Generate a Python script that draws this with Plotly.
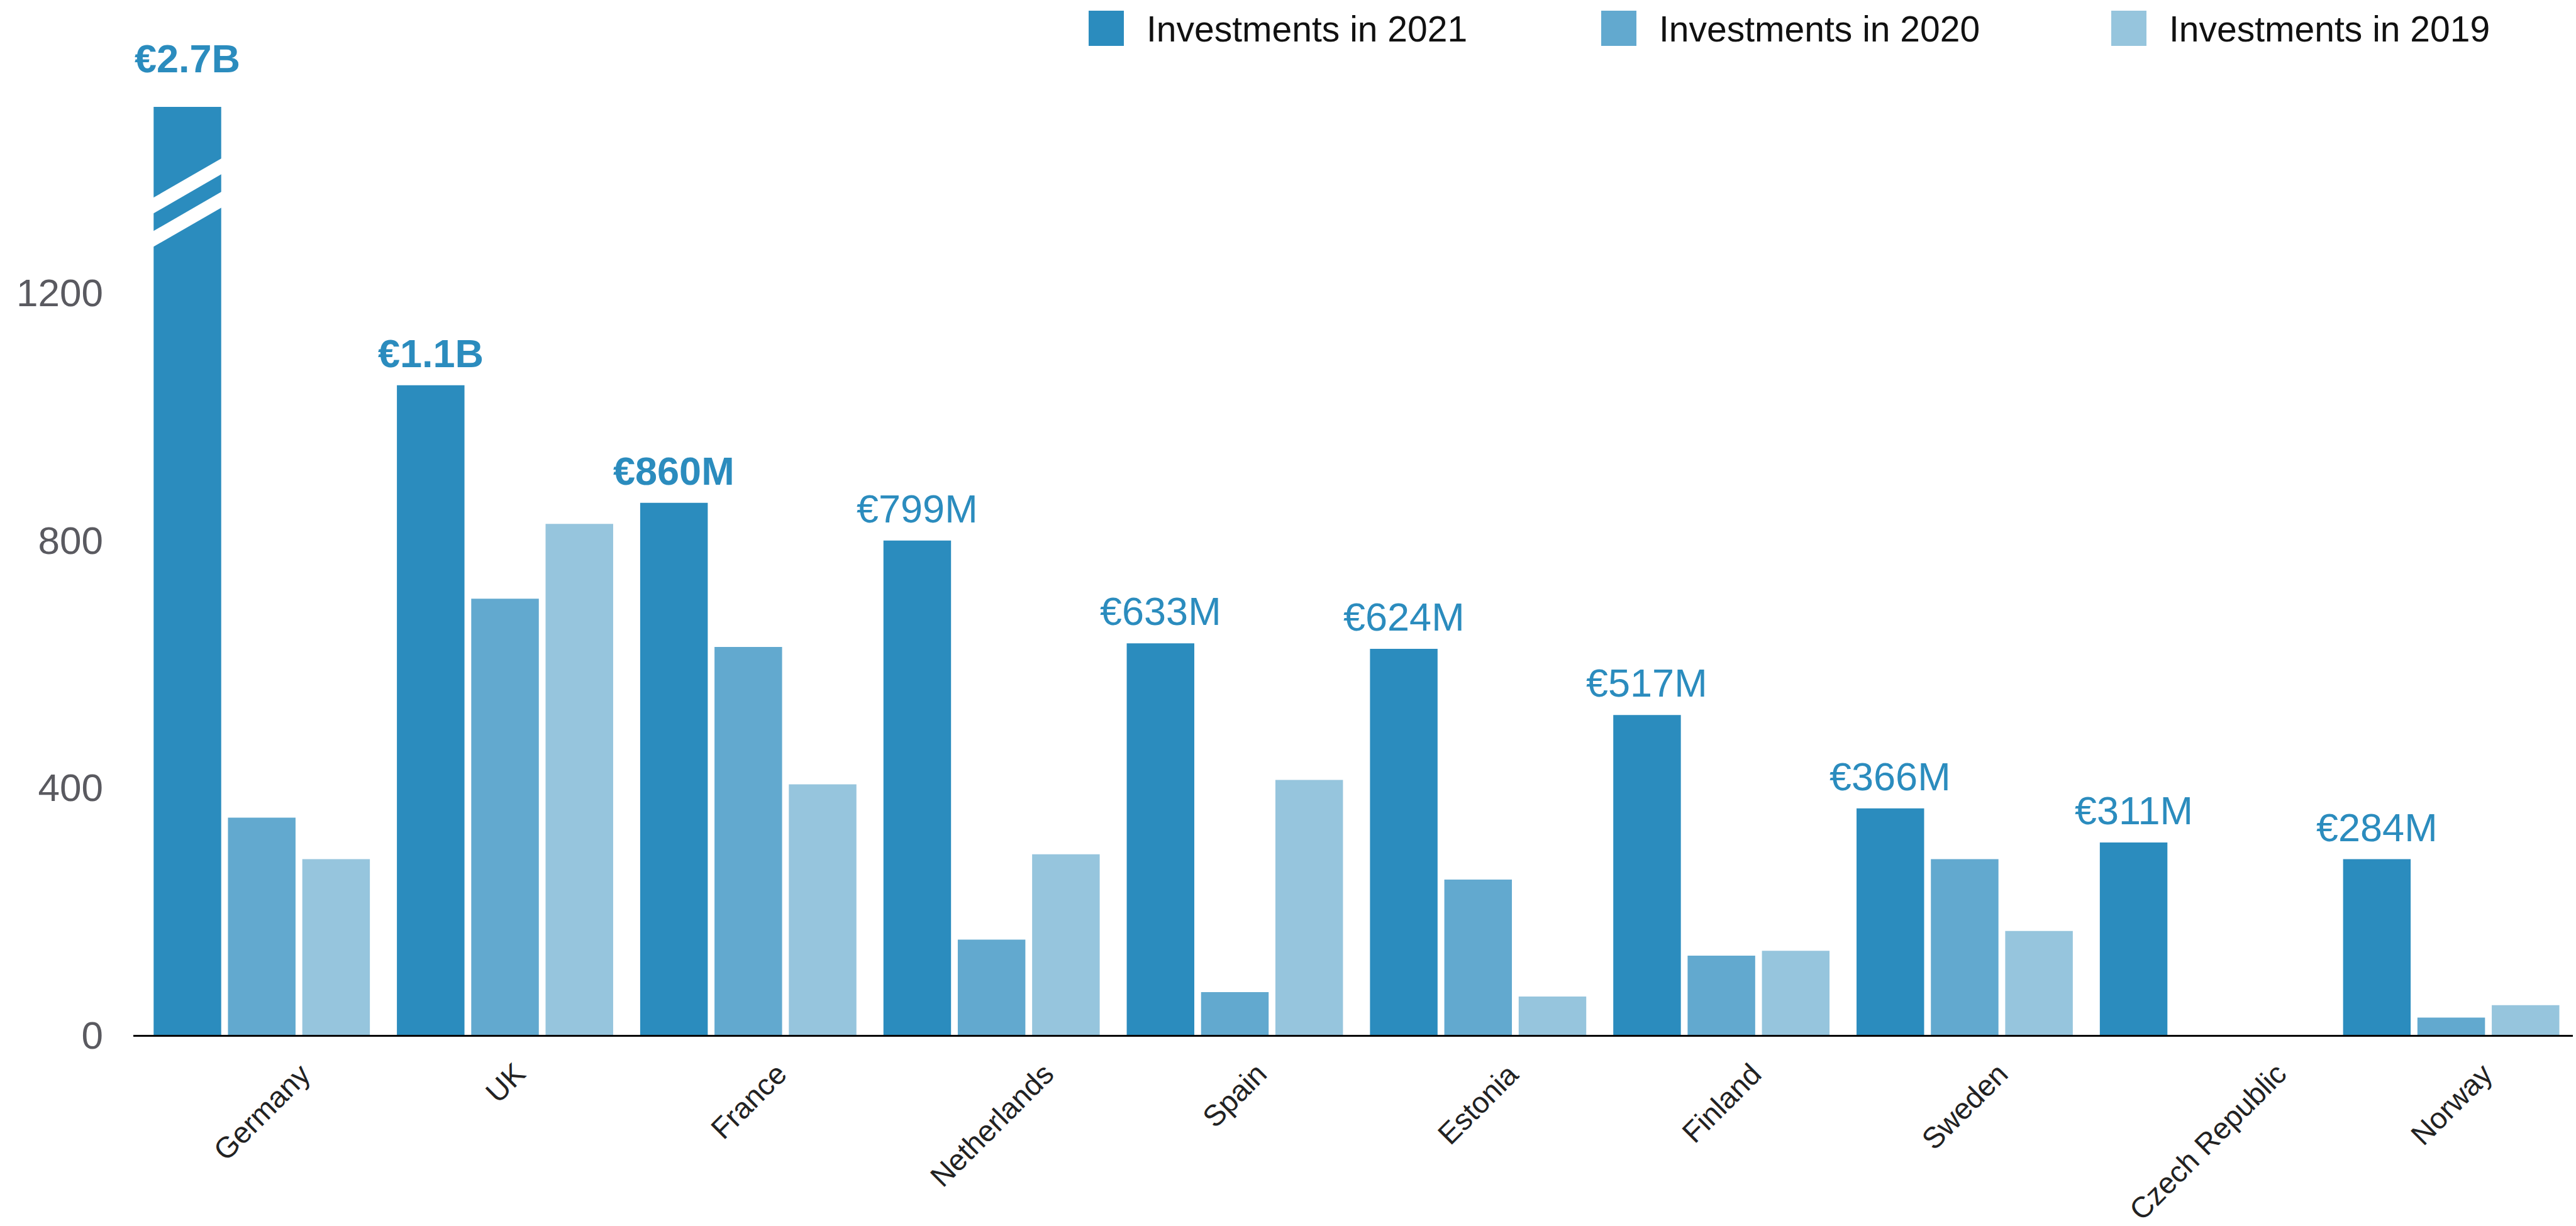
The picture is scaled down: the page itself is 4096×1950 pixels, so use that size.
import plotly.graph_objects as go

# ---- data -------------------------------------------------------------
countries = ["Germany", "UK", "France", "Netherlands", "Spain", "Estonia",
             "Finland", "Sweden", "Czech Republic", "Norway"]
series_names = ["Investments in 2021", "Investments in 2020", "Investments in 2019"]
inv_2021 = [2700, 1050, 860, 799, 633, 624, 517, 366, 311, 284]
inv_2020 = [351, 705, 627, 154, 69, 251, 128, 284, None, 28]
inv_2019 = [284, 826, 405, 292, 412, 62, 136, 168, None, 48]
y_ticks = [0, 400, 800, 1200]
y_max = 1500  # visible top of the value axis; taller bars get a break mark

# ---- style ------------------------------------------------------------
colors = ["#2B8CBE", "#62A9CF", "#96C5DD"]
FONT = "Liberation Sans, Arial, Helvetica, sans-serif"
W, H = 4096, 1950
M = dict(l=212, r=5, t=170, b=304)
BARGAP, GROUPGAP = 0.0833, 0.0909


def money(v):
    return f"€{v / 1000:.1f}B" if v >= 1000 else f"€{v}M"


fig = go.Figure()
for name, vals, col in zip(series_names, [inv_2021, inv_2020, inv_2019], colors):
    fig.add_trace(go.Bar(
        x=countries, y=vals, name=name,
        marker=dict(color=col, line=dict(width=0)),
        showlegend=False,
    ))

# grouped-bar geometry in category units
n_series = 3
slot = (1 - BARGAP) / n_series
bar_w = slot * (1 - GROUPGAP)


def offset(k):
    return -(1 - BARGAP) / 2 + slot * (k + 0.5)


annotations = []
shapes = []

# value labels above the 2021 bars (three largest in bold)
top3 = sorted(range(len(inv_2021)), key=lambda i: -inv_2021[i])[:3]
for i, v in enumerate(inv_2021):
    clipped = v > y_max
    txt = money(v)
    if i in top3:
        txt = f"<b>{txt}</b>"
    annotations.append(dict(
        x=i + offset(0), y=min(v, y_max), xref="x", yref="y",
        text=txt, showarrow=False, xanchor="center", yanchor="bottom",
        yshift=14 + (26 if clipped else 0),
        font=dict(family=FONT, size=63, color=colors[0]),
    ))

# axis-break bands across bars that run past the visible range
BREAK_BANDS = [(1328, 1391), (1274, 1337)]  # lower edge at left / right of bar
BAND_H = 25.5
for i, v in enumerate(inv_2021):
    if v > y_max:
        xl = i + offset(0) - bar_w / 2
        xr = i + offset(0) + bar_w / 2
        ext = 0.02
        for yl, yr in BREAK_BANDS:
            slope = (yr - yl) / (xr - xl)
            x0, x1 = xl - ext, xr + ext
            y0, y1 = yl - slope * ext, yr + slope * ext
            path = (f"M {x0},{y0} L {x1},{y1} L {x1},{y1 + BAND_H} "
                    f"L {x0},{y0 + BAND_H} Z")
            shapes.append(dict(type="path", xref="x", yref="y", path=path,
                               fillcolor="white", line=dict(width=0),
                               layer="above"))

# rotated country labels under each group
for c in countries:
    annotations.append(dict(
        x=c, y=0, xref="x", yref="paper", text=c, textangle=-45,
        showarrow=False, xanchor="center", yanchor="top", yshift=-32,
        font=dict(family=FONT, size=47, color="#222222"),
    ))

# legend row at the top
plot_w = W - M["l"] - M["r"]
plot_h = H - M["t"] - M["b"]


def px_x(px):
    return (px - M["l"]) / plot_w


def px_y(py):
    return (H - M["b"] - py) / plot_h


legend_left = [1731, 2546, 3357]
SW, SW_TOP = 56, 17
for name, col, lx in zip(series_names, colors, legend_left):
    shapes.append(dict(type="rect", xref="paper", yref="paper",
                       x0=px_x(lx), x1=px_x(lx + SW),
                       y0=px_y(SW_TOP + SW), y1=px_y(SW_TOP),
                       fillcolor=col, line=dict(width=0)))
    annotations.append(dict(
        xref="paper", yref="paper", x=px_x(lx + 90), y=px_y(46),
        text=name, xanchor="left", yanchor="middle", showarrow=False,
        font=dict(family=FONT, size=57, color="#111111"),
    ))

fig.update_layout(
    width=W, height=H, autosize=False,
    margin=dict(l=M["l"], r=M["r"], t=M["t"], b=M["b"], pad=0),
    paper_bgcolor="white", plot_bgcolor="white",
    barmode="group", bargap=BARGAP, bargroupgap=GROUPGAP,
    font=dict(family=FONT),
    showlegend=False,
    annotations=annotations, shapes=shapes,
    xaxis=dict(type="category", showticklabels=False, ticks="",
               showgrid=False, zeroline=False,
               showline=True, linecolor="black", linewidth=3),
    yaxis=dict(range=[0, y_max], tickvals=y_ticks, ticks="",
               showgrid=False, zeroline=False, showline=False,
               ticklabelstandoff=47,
               tickfont=dict(family=FONT, size=62, color="#5A5A60")),
)

fig.write_html("out.html", config={"displayModeBar": False})
